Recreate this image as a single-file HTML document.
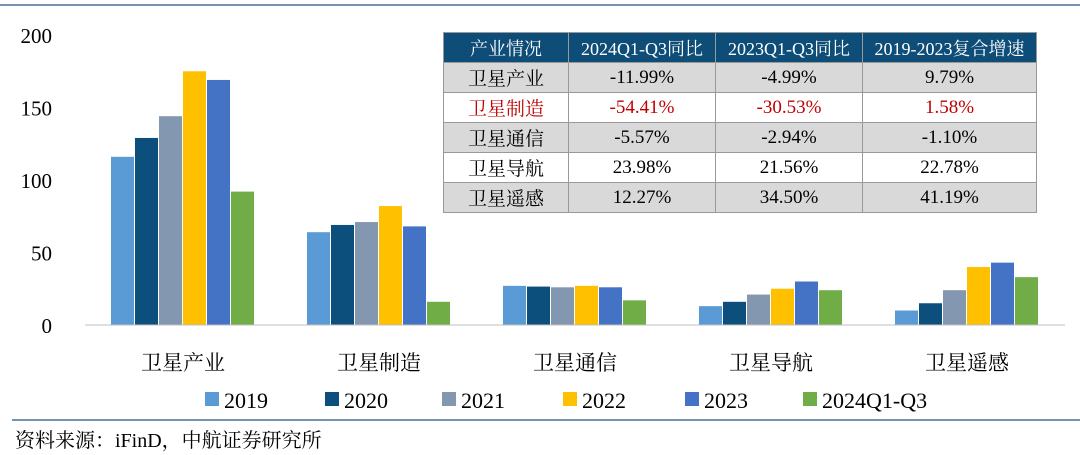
<!DOCTYPE html>
<html><head><meta charset="utf-8"><style>
body{margin:0;width:1080px;height:455px;background:#fff;overflow:hidden;font-family:"Liberation Serif","Noto Serif CJK SC",serif;}
table{position:absolute;left:443px;top:32px;border-collapse:collapse;font-size:19px;}
td{height:29px;text-align:center;border:1px solid #999;padding:0;white-space:nowrap;}
tr.h td{background:#0e4d78;color:#fff;font-size:18px;}
tr.g td{background:#d9d9d9;}
tr.r td{color:#c00000;}
</style></head><body>
<svg id="c" width="1080" height="455" style="position:absolute;left:0;top:0"></svg>
<table>
<tr class="h"><td style="width:124px">产业情况</td><td style="width:146px">2024Q1-Q3同比</td><td style="width:146px">2023Q1-Q3同比</td><td style="width:173px">2019-2023复合增速</td></tr>
<tr class="g"><td>卫星产业</td><td>-11.99%</td><td>-4.99%</td><td>9.79%</td></tr>
<tr class="r"><td>卫星制造</td><td>-54.41%</td><td>-30.53%</td><td>1.58%</td></tr>
<tr class="g"><td>卫星通信</td><td>-5.57%</td><td>-2.94%</td><td>-1.10%</td></tr>
<tr><td>卫星导航</td><td>23.98%</td><td>21.56%</td><td>22.78%</td></tr>
<tr class="g"><td>卫星遥感</td><td>12.27%</td><td>34.50%</td><td>41.19%</td></tr>
</table>
<script>
const categories=["卫星产业","卫星制造","卫星通信","卫星导航","卫星遥感"];
const seriesNames=["2019","2020","2021","2022","2023","2024Q1-Q3"];
const s2019=[116,64,27,13,10];
const s2020=[129,69,26.5,16,15];
const s2021=[144,71,26,21,24];
const s2022=[175,82,27,25,40];
const s2023=[169,68,26,30,43];
const s2024=[92,16,17,24,33];
const yTicks=[0,50,100,150,200];
const colors=["#5b9bd5","#0d4f7c","#8497b0","#ffc000","#4472c4","#70ad47"];
const series=[s2019,s2020,s2021,s2022,s2023,s2024];
const svg=document.getElementById('c');const NS="http://www.w3.org/2000/svg";
function mk(t,a,txt){const e=document.createElementNS(NS,t);for(const k in a)e.setAttribute(k,a[k]);if(txt!=null)e.textContent=txt;svg.appendChild(e);return e;}
const x0=85,x1=1065,y0=325,y1=35;
const y=v=>y0-(v/200)*(y0-y1);
const gw=(x1-x0)/categories.length,bw=24;
const cx=i=>x0+gw*(i+0.5);
let e=mk('line',{x1:0,y1:5,x2:1080,y2:5,stroke:'#4a6f95','stroke-width':1.5});

e=mk('line',{x1:12,y1:420,x2:1080,y2:420,stroke:'#4a6f95','stroke-width':1.5});

yTicks.forEach(t=>{e=mk('text',{x:52,y:y(t)+8,'text-anchor':'end','font-size':21,fill:'#000'},t);
});
series.forEach((s,j)=>s.forEach((v,i)=>{e=mk('rect',{x:cx(i)-3*bw+j*bw,y:y(v),width:bw-1,height:y0-y(v),fill:colors[j]});
}));
e=mk('line',{x1:x0,y1:y0,x2:x1,y2:y0,stroke:'#bfbfbf','stroke-width':1});

categories.forEach((c,i)=>{e=mk('text',{x:cx(i),y:370,'text-anchor':'middle','font-size':21,fill:'#000'},c);
});
const lx=[205,325,442,563,685,803];
seriesNames.forEach((n,j)=>{e=mk('rect',{x:lx[j],y:392,width:14,height:14,fill:colors[j]});

e=mk('text',{x:lx[j]+19,y:408,'font-size':22,fill:'#000'},n);
});
e=mk('text',{x:15,y:447,'font-size':20,fill:'#000'},'资料来源：iFinD，中航证券研究所');

</script>
</body></html>
